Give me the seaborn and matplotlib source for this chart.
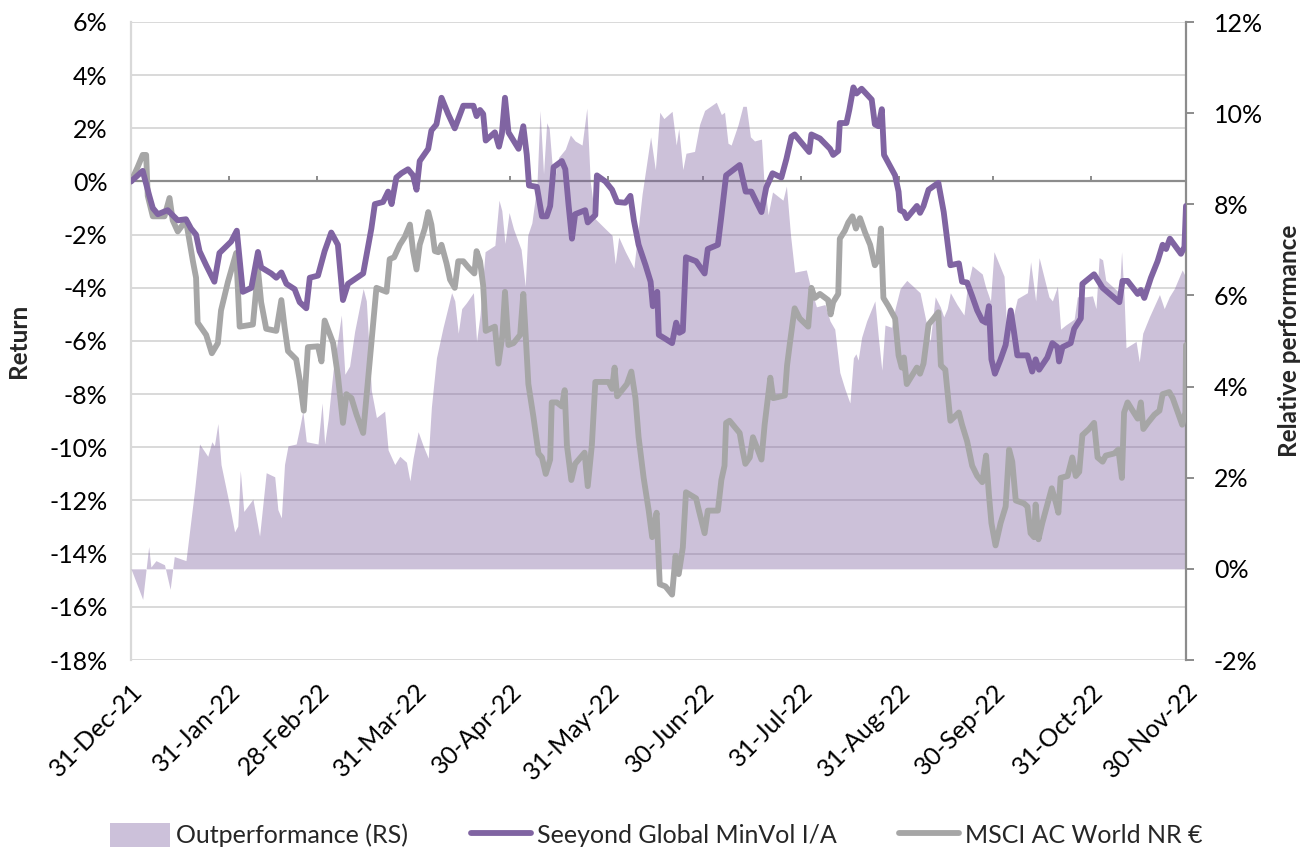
import pandas as pd
import seaborn as sns
import matplotlib.pyplot as plt
import matplotlib.ticker as ticker
from matplotlib.patches import Patch
from matplotlib.lines import Line2D

# days after 31-Dec-21, values in %
seeyond_day = [0, 3.7, 5.8, 6.9, 8.5, 11.6, 14.8, 17.4, 19.0, 20.6, 21.7, 23.8, 26.4, 28.0, 31.7,
               33.5, 35.4, 38.1, 40.2, 41.2, 44.4, 46.0, 47.6, 49.2, 51.8, 53.4, 55.5, 56.6, 59.2,
               61.3, 63.4, 65.5, 67.1, 68.7, 73.5, 76.1, 77.2, 79.8, 81.4, 82.5, 84.0, 85.6, 87.7,
               89.3, 90.4, 91.4, 94.1, 95.1, 96.7, 98.3, 100.4, 102.5, 105.2, 108.4, 109.4, 110.5,
               111.5, 112.3, 115.2, 116.5, 117.4, 118.4, 119.5, 122.7, 124.2, 125.3, 126.0, 128.5,
               130.1, 131.6, 132.7, 133.8, 136.4, 137.5, 138.5, 139.6, 140.6, 143.8, 144.6, 147.0,
               147.5, 150.2, 152.3, 153.9, 156.5, 158.1, 159.2, 160.7, 162.9, 164.5, 165.2, 166.6,
               167.1, 169.2, 171.3, 172.6, 173.6, 174.7, 175.7, 178.9, 181.6, 182.6, 185.8, 186.9,
               188.4, 192.7, 194.6, 196.4, 198.0, 199.6, 201.1, 203.1, 205.9, 207.5, 209.1, 210.1,
               211.7, 214.7, 215.4, 218.1, 221.3, 222.3, 223.9, 224.4, 226.5, 227.4, 228.7, 229.7,
               231.3, 234.5, 235.5, 236.6, 237.7, 238.4, 241.9, 243.0, 243.5, 244.7, 245.6, 248.8,
               249.8, 250.9, 252.5, 255.6, 257.3, 259.4, 262.1, 263.1, 264.7, 266.3, 267.9, 269.5,
               270.7, 271.6, 272.4, 273.5, 275.3, 276.9, 278.5, 279.5, 280.6, 283.8, 285.3, 286.4,
               287.5, 290.1, 291.7, 293.3, 293.8, 294.9, 297.5, 298.6, 300.7, 301.2, 304.9, 307.6,
               311.3, 312.9, 313.9, 315.5, 318.7, 319.7, 320.8, 322.9, 325.0, 326.6, 327.7, 328.9,
               330.3, 332.4, 333.5, 334.0]
seeyond_ret = [0.0, 0.4, -0.54, -1.0, -1.23, -1.08, -1.46, -1.42, -1.77, -2.0, -2.62, -3.15, -3.77,
               -2.69, -2.26, -1.85, -4.15, -4.0, -2.65, -3.23, -3.46, -3.62, -3.42, -3.85, -4.05,
               -4.54, -4.77, -3.62, -3.54, -2.62, -1.92, -2.38, -4.46, -3.85, -3.46, -1.77, -0.85,
               -0.77, -0.38, -0.85, 0.15, 0.31, 0.46, 0.23, -0.31, 0.77, 1.23, 1.92, 2.15, 3.15,
               2.54, 2.0, 2.85, 2.85, 2.46, 2.69, 2.54, 1.54, 1.85, 1.31, 1.77, 3.15, 1.85, 1.23,
               2.08, 1.0, -0.15, -0.2, -1.31, -1.31, -0.92, 0.54, 0.77, 0.46, -0.85, -2.15, -1.23,
               -1.08, -1.54, -1.26, 0.23, 0.0, -0.31, -0.77, -0.8, -0.54, -1.46, -2.38, -3.15, -3.77,
               -4.69, -4.15, -5.77, -5.92, -6.08, -5.31, -5.69, -5.62, -2.85, -3.0, -3.46, -2.54,
               -2.38, -1.31, 0.23, 0.62, -0.38, -0.38, -0.77, -1.15, -0.23, 0.31, 0.15, 0.85, 1.69,
               1.77, 1.54, 1.11, 1.77, 1.62, 1.23, 1.0, 1.15, 2.2, 2.2, 2.69, 3.54, 3.31, 3.49, 3.08,
               2.15, 2.08, 2.72, 1.0, 0.23, -0.38, -1.08, -1.15, -1.38, -0.92, -1.18, -0.92, -0.31,
               -0.05, -1.15, -3.15, -3.08, -3.77, -3.8, -4.31, -4.85, -5.23, -5.31, -4.69, -6.69,
               -7.23, -6.69, -6.15, -4.85, -5.62, -6.54, -6.54, -7.15, -6.69, -7.08, -6.62, -6.08,
               -6.23, -6.77, -6.23, -6.08, -5.54, -5.15, -3.85, -3.49, -4.0, -4.38, -4.54, -3.74,
               -3.74, -4.23, -4.08, -4.38, -3.62, -3.0, -2.38, -2.54, -2.15, -2.38, -2.72, -2.46,
               -0.92]

msci_day = [0, 2.1, 3.7, 4.8, 5.3, 6.9, 10.6, 12.2, 13.2, 14.8, 17.4, 19.6, 20.6, 21.1, 23.8, 25.6,
            27.5, 28.5, 30.7, 33.3, 34.4, 38.6, 40.2, 41.2, 42.8, 46.0, 47.6, 48.6, 49.7, 52.3,
            53.4, 54.7, 56.0, 59.2, 60.3, 61.3, 64.0, 65.5, 67.1, 68.2, 69.8, 71.4, 73.5, 76.1,
            77.7, 80.9, 81.9, 83.3, 85.1, 86.7, 88.3, 89.3, 90.4, 91.4, 93.0, 94.1, 95.1, 96.2,
            97.3, 98.3, 99.9, 101.0, 102.5, 103.6, 105.2, 106.8, 108.7, 109.4, 110.5, 111.5,
            112.3, 115.2, 116.3, 117.6, 118.4, 119.5, 121.1, 123.2, 124.2, 124.8, 125.8, 127.4,
            129.0, 130.1, 131.3, 132.7, 133.2, 134.8, 136.4, 137.3, 138.0, 139.4, 140.6, 143.6,
            144.6, 145.9, 147.0, 151.2, 152.3, 153.1, 153.9, 157.0, 158.4, 159.7, 160.7, 162.3,
            163.9, 165.0, 166.4, 167.4, 169.2, 171.3, 172.4, 173.4, 174.7, 175.7, 178.9, 179.8,
            181.6, 182.6, 185.8, 186.9, 187.9, 188.4, 189.5, 192.7, 193.7, 194.5, 195.9, 196.9,
            199.6, 200.6, 202.4, 203.3, 207.0, 207.7, 208.6, 210.1, 211.7, 214.4, 215.4, 216.5,
            218.1, 220.7, 221.5, 222.3, 223.9, 224.4, 226.0, 227.1, 228.4, 229.5, 230.8, 232.4,
            234.0, 235.5, 236.6, 237.4, 238.2, 239.8, 241.9, 243.0, 244.0, 244.7, 245.6, 247.2,
            248.8, 249.8, 250.9, 252.5, 254.1, 255.6, 256.4, 257.8, 259.4, 262.1, 263.1, 264.7,
            266.3, 267.9, 269.5, 270.7, 271.6, 272.4, 273.7, 275.3, 276.9, 278.0, 279.0, 280.1,
            282.7, 283.8, 284.8, 285.9, 286.4, 287.3, 288.5, 290.1, 291.5, 292.8, 293.6, 294.3,
            296.5, 298.0, 299.1, 300.2, 301.2, 303.3, 304.9, 306.0, 307.6, 308.6, 311.3, 312.6,
            313.7, 314.4, 315.5, 317.1, 318.7, 319.7, 320.5, 321.9, 324.0, 325.6, 326.6, 328.7,
            329.8, 331.4, 332.8, 333.8, 334.0]
msci_ret = [0.0, 0.54, 1.0, 1.0, -0.54, -1.31, -1.31, -0.62, -1.46, -1.88, -1.46, -3.0, -3.62, -5.31,
            -5.77, -6.46, -6.08, -4.85, -3.77, -2.69, -5.46, -5.38, -3.31, -4.54, -5.54, -5.62,
            -4.46, -5.46, -6.38, -6.69, -7.46, -8.62, -6.23, -6.2, -6.77, -5.23, -6.08, -7.31,
            -9.08, -8.0, -8.15, -8.77, -9.46, -6.08, -4.0, -4.15, -2.92, -2.85, -2.38, -2.08,
            -1.62, -2.62, -3.31, -2.38, -1.77, -1.15, -1.62, -2.62, -2.66, -2.38, -3.08, -3.69,
            -4.0, -3.0, -3.0, -3.23, -3.46, -2.62, -3.0, -3.92, -5.62, -5.46, -6.85, -5.77, -4.15,
            -6.15, -6.08, -5.77, -4.23, -5.46, -7.62, -8.85, -10.23, -10.38, -11.0, -10.46, -8.31,
            -8.31, -8.46, -7.85, -9.92, -11.23, -10.62, -10.2, -11.46, -9.92, -7.54, -7.54, -7.8,
            -7.0, -8.08, -7.62, -7.15, -8.15, -9.62, -11.15, -12.38, -13.38, -12.46, -15.15,
            -15.23, -15.54, -14.08, -14.77, -13.77, -11.69, -11.92, -12.38, -13.23, -12.38,
            -12.38, -11.23, -10.69, -9.08, -9.0, -9.46, -10.15, -10.62, -10.38, -9.62, -10.46,
            -9.15, -7.38, -8.15, -8.05, -6.92, -6.08, -4.77, -5.15, -5.46, -4.0, -4.38, -4.23,
            -4.46, -5.0, -4.54, -4.23, -2.15, -1.85, -1.54, -1.31, -1.77, -1.38, -1.92, -2.38,
            -3.15, -2.92, -1.77, -4.38, -4.69, -5.15, -6.54, -7.0, -6.62, -7.62, -7.31, -7.0,
            -7.23, -6.85, -5.38, -5.15, -4.92, -6.92, -7.08, -9.0, -8.69, -9.15, -9.77, -10.69,
            -11.08, -11.31, -10.31, -11.77, -12.85, -13.69, -12.85, -12.23, -10.08, -10.54, -12.0,
            -12.11, -12.23, -13.23, -13.38, -12.15, -13.46, -12.85, -12.15, -11.54, -12.08,
            -12.46, -11.15, -11.08, -10.38, -11.08, -10.92, -9.54, -9.31, -9.08, -10.38, -10.54,
            -10.31, -10.23, -10.08, -11.15, -8.69, -8.31, -8.62, -8.92, -8.31, -9.31, -9.08,
            -8.77, -8.62, -8.0, -7.92, -8.15, -8.69, -9.15, -8.69, -6.15]

outperf_day = [0, 3.7, 5.6, 6.3, 7.9, 10.6, 12.4, 13.7, 17.4, 20.1, 21.7, 24.3, 25.6, 26.4, 27.5,
               28.5, 31.2, 32.8, 33.8, 34.6, 35.7, 38.6, 40.7, 42.8, 45.5, 46.5, 47.6, 48.6, 49.7,
               52.3, 53.4, 54.4, 55.5, 59.2, 60.5, 61.3, 62.4, 64.0, 66.6, 67.7, 69.2, 70.8, 73.5,
               74.5, 76.1, 77.7, 80.3, 81.4, 83.5, 85.1, 87.2, 88.3, 89.3, 90.9, 92.5, 94.1, 95.1,
               96.7, 98.8, 101.5, 102.5, 103.6, 104.7, 106.2, 108.4, 109.4, 110.5, 112.1, 115.2,
               116.5, 117.4, 118.4, 119.7, 121.1, 123.5, 124.8, 125.6, 126.9, 128.5, 129.5, 130.6,
               131.6, 132.4, 133.8, 135.4, 137.5, 139.1, 140.6, 142.8, 144.3, 145.4, 147.0, 150.2,
               152.3, 153.3, 154.4, 156.5, 159.2, 161.8, 164.5, 166.0, 167.4, 168.7, 171.3, 172.6,
               173.4, 174.7, 175.7, 178.4, 180.0, 181.6, 185.3, 186.9, 187.9, 189.0, 190.0, 192.2,
               193.7, 194.8, 196.1, 197.4, 199.6, 200.3, 201.7, 203.1, 206.4, 207.5, 208.8, 210.1,
               213.8, 214.9, 217.0, 219.7, 221.3, 222.8, 224.4, 226.0, 227.6, 228.7, 229.5, 230.2,
               231.3, 232.9, 235.5, 236.6, 237.7, 238.7, 240.8, 241.9, 243.5, 245.6, 249.8, 251.4,
               253.0, 254.6, 256.2, 257.3, 258.4, 259.4, 261.5, 263.7, 264.7, 266.3, 269.5, 270.5,
               272.1, 273.2, 274.8, 276.4, 277.4, 280.6, 283.8, 284.8, 286.4, 287.5, 290.6, 291.7,
               293.3, 294.3, 295.9, 298.6, 299.6, 302.3, 304.4, 305.5, 306.5, 307.6, 308.6, 312.9,
               313.6, 314.4, 315.0, 318.2, 319.2, 320.3, 322.4, 325.6, 327.1, 328.7, 330.3, 332.8,
               333.8, 334.0]
outperf_val = [0.0, -0.67, 0.49, 0.04, 0.18, 0.09, -0.45, 0.27, 0.18, 1.71, 2.74, 2.47, 2.79, 2.7,
               3.19, 2.29, 1.39, 0.81, 0.94, 2.16, 1.26, 1.53, 0.72, 2.11, 2.02, 1.3, 1.12, 2.29,
               2.7, 2.74, 3.1, 3.46, 2.79, 2.74, 3.64, 2.74, 3.28, 4.36, 5.57, 4.27, 4.45, 5.21,
               6.15, 5.88, 3.91, 3.32, 3.46, 2.61, 2.29, 2.47, 2.34, 1.93, 2.43, 3.01, 2.7, 2.43,
               3.55, 4.63, 5.3, 6.06, 5.88, 5.17, 5.71, 5.84, 6.06, 4.99, 5.57, 6.96, 7.1, 8.09,
               7.86, 7.14, 7.82, 7.46, 7.01, 6.2, 7.32, 7.59, 8.4, 10.06, 8.67, 9.79, 9.66, 8.45,
               9.03, 9.21, 9.52, 9.39, 9.3, 10.11, 8.49, 7.68, 7.46, 7.32, 6.69, 7.28, 6.96, 6.6,
               8.22, 9.48, 8.76, 10.02, 9.88, 10.04, 9.3, 9.66, 8.76, 9.12, 9.16, 9.75, 10.06,
               10.24, 9.97, 10.02, 9.34, 9.3, 9.75, 10.15, 10.15, 9.48, 9.39, 9.43, 8.58, 7.77,
               8.27, 8.09, 8.4, 7.32, 6.51, 6.56, 6.24, 5.75, 5.8, 5.44, 5.26, 4.31, 3.95, 3.64,
               4.63, 4.72, 4.58, 5.08, 5.44, 5.88, 5.08, 4.36, 5.35, 5.3, 5.71, 6.15, 6.33, 6.06,
               5.53, 4.99, 5.97, 5.75, 5.53, 5.71, 6.06, 5.8, 5.57, 6.15, 6.65, 6.47, 6.2, 5.88,
               6.96, 6.69, 6.42, 4.99, 5.93, 6.06, 6.74, 5.88, 6.83, 5.97, 5.88, 6.2, 5.26, 5.35,
               5.48, 5.97, 5.97, 5.99, 5.71, 6.83, 6.78, 6.33, 6.06, 6.96, 5.97, 4.85, 4.99, 4.54,
               5.17, 5.53, 6.02, 5.71, 5.97, 6.15, 6.56, 6.42, 4.99]

tick_dates = ["2021-12-31", "2022-01-31", "2022-02-28", "2022-03-31", "2022-04-30", "2022-05-31",
              "2022-06-30", "2022-07-31", "2022-08-31", "2022-09-30", "2022-10-31", "2022-11-30"]
tick_labels = ["31-Dec-21", "31-Jan-22", "28-Feb-22", "31-Mar-22", "30-Apr-22", "31-May-22",
               "30-Jun-22", "31-Jul-22", "31-Aug-22", "30-Sep-22", "31-Oct-22", "30-Nov-22"]

base = pd.Timestamp("2021-12-31")
def to_dates(days):
    return base + pd.to_timedelta(days, unit="D")

seeyond_df = pd.DataFrame({"date": to_dates(seeyond_day), "ret": seeyond_ret})
msci_df = pd.DataFrame({"date": to_dates(msci_day), "ret": msci_ret})
outperf_df = pd.DataFrame({"date": to_dates(outperf_day), "val": outperf_val})
ticks = pd.to_datetime(tick_dates)

PURPLE = "#8064A2"
GREY = "#A6A6A6"
AXIS = "#8C8C8C"
GRID = "#D9D9D9"

sns.set_theme(style="white")
plt.rcParams['font.family'] = ['Lato', 'DejaVu Sans']
plt.rcParams['axes.unicode_minus'] = False
FS = 18
LW = 4.2

fig = plt.figure(figsize=(13.05, 8.52), dpi=100)
pos = [131/1305, 1 - 660/852, (1186 - 131)/1305, (660 - 22)/852]
ax1 = fig.add_axes(pos)
ax2 = ax1.twinx()
ax3 = ax1.twinx()
ax1.set_zorder(0)
ax2.set_zorder(1)
ax3.set_zorder(2)

# left axis: grid, zero line
ax1.set_ylim(-18, 6)
ax1.set_yticks(range(-18, 7, 2))
ax1.yaxis.set_major_formatter(ticker.PercentFormatter(decimals=0))
ax1.yaxis.grid(True, color=GRID, lw=1.4)
ax1.set_axisbelow(True)
ax1.axhline(0, color=AXIS, lw=1.6, zorder=1)
ax1.vlines(ticks, 0, 0.22, color=AXIS, lw=1.4, zorder=1)
for s in ["top", "right", "bottom"]:
    ax1.spines[s].set_visible(False)
ax1.spines["left"].set_color(GRID)
ax1.spines["left"].set_linewidth(1.6)
ax1.tick_params(axis="y", length=0, pad=17, labelsize=FS, colors="black")
ax1.set_xlim(ticks[0], ticks[-1])
ax1.set_xticks(ticks)
ax1.set_xticklabels(tick_labels, rotation=45, ha="right", rotation_mode="anchor")
ax1.tick_params(axis="x", length=0, pad=14, labelsize=FS, colors="black")
ax1.set_ylabel("Return", fontsize=17.5, fontweight="bold")
ax1.yaxis.set_label_coords(-0.0957, 0.5)

# right axis: outperformance area
ax2.fill_between(outperf_df["date"], 0, outperf_df["val"], color=PURPLE, alpha=0.4, lw=0)
ax2.set_ylim(-2, 12)
ax2.set_yticks(range(-2, 13, 2))
ax2.yaxis.set_major_formatter(ticker.PercentFormatter(decimals=0))
for s in ["top", "left", "bottom"]:
    ax2.spines[s].set_visible(False)
ax2.spines["right"].set_color(AXIS)
ax2.spines["right"].set_linewidth(1.6)
ax2.tick_params(axis="y", direction="out", length=6, width=1.4, color=AXIS, pad=14,
                labelsize=FS, labelcolor="black")
ax2.set_ylabel("Relative performance", fontsize=17.5, fontweight="bold", rotation=90)
ax2.yaxis.set_label_coords(1.087, 0.5)

# lines on top
sns.lineplot(data=msci_df, x="date", y="ret", ax=ax3, color=GREY, linewidth=LW)
sns.lineplot(data=seeyond_df, x="date", y="ret", ax=ax3, color=PURPLE, linewidth=LW)
ax3.set_ylim(ax1.get_ylim())
ax3.set_xlim(ticks[0], ticks[-1])
ax3.set_yticks([])
ax3.set_ylabel("")
ax3.set_xlabel("")
for s in ax3.spines.values():
    s.set_visible(False)

handles = [Patch(facecolor="#CCC1DA", edgecolor="none"),
           Line2D([], [], color=PURPLE, lw=LW),
           Line2D([], [], color=GREY, lw=LW)]
labels = ["Outperformance (RS)", "Seeyond Global MinVol I/A", "MSCI AC World NR €"]
fig.legend(handles, labels, loc="center", bbox_to_anchor=(0.503, 1 - 835/852), ncol=3,
           frameon=False, fontsize=18, handlelength=2.4, handleheight=1.1,
           handletextpad=0.25, columnspacing=2.5)

fig.savefig("out.png", dpi=100)
